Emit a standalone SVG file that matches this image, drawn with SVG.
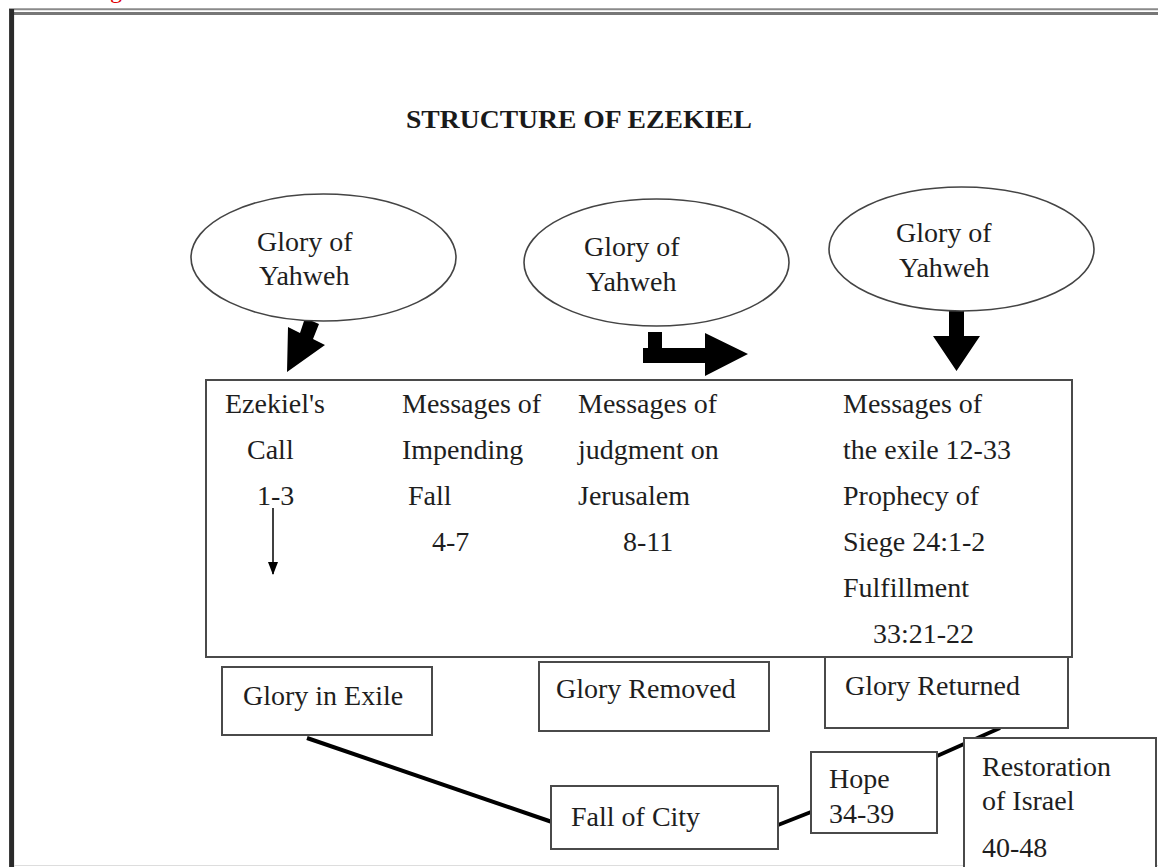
<svg xmlns="http://www.w3.org/2000/svg" width="1158" height="867" viewBox="0 0 1158 867">
<defs>
<style>
.t{font-family:"Liberation Serif","Times New Roman",serif;font-size:28px;fill:#1e1e1e}
.title{font-family:"Liberation Serif","Times New Roman",serif;font-size:25px;font-weight:bold;fill:#1a1a1a}
.box{fill:#fff;stroke:#4a4a4a;stroke-width:2}
.ell{fill:#fff;stroke:#444;stroke-width:1.6}
.conn{stroke:#000;stroke-width:4;fill:none}
.blk{fill:#000}
</style>
<marker id="ah" markerWidth="13" markerHeight="10" refX="12" refY="5" orient="auto" markerUnits="userSpaceOnUse">
<path d="M0,0 L13,5 L0,10 Z" fill="#000"/>
</marker>
</defs>
<rect x="0" y="0" width="1158" height="867" fill="#fff"/>
<g id="frame">
<line x1="9" y1="9.3" x2="1158" y2="9.3" stroke="#8a8a8a" stroke-width="2"/>
<line x1="14" y1="13.6" x2="1158" y2="13.6" stroke="#777" stroke-width="3"/>
<line x1="11.6" y1="9" x2="11.6" y2="867" stroke="#2a2a2a" stroke-width="5"/>
<line x1="14" y1="865.5" x2="1158" y2="865.5" stroke="#ddd" stroke-width="1"/>
</g>
<text x="110" y="-2" font-family="Liberation Serif, serif" font-size="24" fill="#e00000">g</text>
<text id="title" class="title" x="406" y="128" textLength="346" lengthAdjust="spacingAndGlyphs">STRUCTURE OF EZEKIEL</text>
<g id="connectors">
<line class="conn" x1="307" y1="738" x2="552" y2="822"/>
<line class="conn" x1="778" y1="825" x2="811" y2="812"/>
<line class="conn" x1="937" y1="756" x2="1000" y2="728"/>
<polygon class="blk" points="305,318 319,324 313,339 325,345 287,372 288,327 300,333"/>
<polygon class="blk" points="648,332 662,332 662,348 705,348 705,333 748,354 705,376 705,363 643,363 643,348 648,348"/>
<polygon class="blk" points="949,300 964,300 964,336 980,336 956.5,371 933,336 949,336"/>
</g>
<g id="glory1">
<ellipse class="ell" cx="323.5" cy="257.5" rx="132.5" ry="63.5"/>
<text class="t" x="257" y="251">Glory of</text>
<text class="t" x="259" y="285">Yahweh</text>
</g>
<g id="glory2">
<ellipse class="ell" cx="656.5" cy="262.5" rx="132.5" ry="63.5"/>
<text class="t" x="584" y="256">Glory of</text>
<text class="t" x="586" y="291">Yahweh</text>
</g>
<g id="glory3">
<ellipse class="ell" cx="961.5" cy="249" rx="132.5" ry="62"/>
<text class="t" x="896" y="242">Glory of</text>
<text class="t" x="899" y="277">Yahweh</text>
</g>
<g id="main">
<rect class="box" x="206" y="380" width="866" height="277"/>
<text class="t" x="225" y="413">Ezekiel's</text>
<text class="t" x="247" y="459">Call</text>
<text class="t" x="257" y="505">1-3</text>
<line x1="273" y1="508" x2="273" y2="574" stroke="#000" stroke-width="1.5" marker-end="url(#ah)"/>
<text class="t" x="402" y="413">Messages of</text>
<text class="t" x="402" y="459">Impending</text>
<text class="t" x="408" y="505">Fall</text>
<text class="t" x="432" y="551">4-7</text>
<text class="t" x="578" y="413">Messages of</text>
<text class="t" x="578" y="459">judgment on</text>
<text class="t" x="578" y="505">Jerusalem</text>
<text class="t" x="623" y="551">8-11</text>
<text class="t" x="843" y="413">Messages of</text>
<text class="t" x="843" y="459">the exile 12-33</text>
<text class="t" x="843" y="505">Prophecy of</text>
<text class="t" x="843" y="551">Siege 24:1-2</text>
<text class="t" x="843" y="597">Fulfillment</text>
<text class="t" x="873" y="643">33:21-22</text>
</g>
<g id="exile">
<rect class="box" x="222" y="667" width="210" height="68"/>
<text class="t" x="243" y="705">Glory in Exile</text>
</g>
<g id="removed">
<rect class="box" x="539" y="662" width="230" height="69"/>
<text class="t" x="556" y="698">Glory Removed</text>
</g>
<g id="returned">
<rect class="box" x="825" y="657" width="243" height="71"/>
<text class="t" x="845" y="695">Glory Returned</text>
</g>
<g id="fall">
<rect class="box" x="551" y="786" width="227" height="63"/>
<text class="t" x="571" y="826">Fall of City</text>
</g>
<g id="hope">
<rect class="box" x="811" y="752" width="126" height="81"/>
<text class="t" x="829" y="788">Hope</text>
<text class="t" x="829" y="823">34-39</text>
</g>
<g id="restoration">
<rect class="box" x="964" y="738" width="192" height="140"/>
<text class="t" x="982" y="776">Restoration</text>
<text class="t" x="982" y="810">of Israel</text>
<text class="t" x="982" y="857">40-48</text>
</g>
</svg>
